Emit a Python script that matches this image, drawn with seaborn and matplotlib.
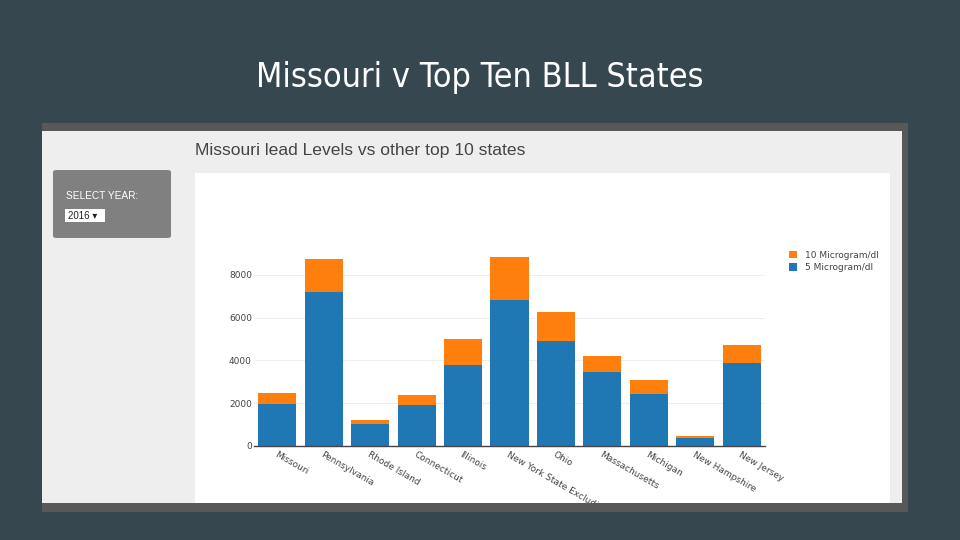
import pandas as pd
import matplotlib
matplotlib.use("Agg")
import matplotlib.pyplot as plt
import seaborn as sns
from matplotlib.patches import Rectangle, FancyBboxPatch

states = ["Missouri", "Pennsylvania", "Rhode Island", "Connecticut", "Illinois",
          "New York State Excluding NYC", "Ohio", "Massachusetts", "Michigan",
          "New Hampshire", "New Jersey"]
tick_labels = ["Missouri", "Pennsylvania", "Rhode Island", "Connecticut", "Illinois",
               "New York State Excluding NYC", "Ohio", "Massachusetts", "Michigan",
               "New Hampshire", "New Jersey"]
bll_5 = [1940, 7220, 1020, 1910, 3770, 6830, 4890, 3460, 2410, 360, 3860]
bll_10 = [515, 1530, 185, 470, 1230, 2015, 1375, 745, 655, 80, 860]
y_ticks = [0, 2000, 4000, 6000, 8000]

BG = '#37474f'
BLUE = '#1f77b4'
ORANGE = '#ff7f0e'

sns.set_theme(style="white")
plt.rcParams['font.family'] = ['DejaVu Sans']

df = pd.DataFrame({'state': states, 'five': bll_5, 'ten': bll_10})
df['total'] = df['five'] + df['ten']

fig = plt.figure(figsize=(9.6, 5.4), dpi=100, facecolor=BG)

def px_rect(x0, y0, x1, y1, color, z=0):
    # rectangle given in pixel coords (origin top-left)
    fig.patches.append(Rectangle((x0 / 960, 1 - y1 / 540), (x1 - x0) / 960, (y1 - y0) / 540,
                                 transform=fig.transFigure, facecolor=color,
                                 edgecolor='none', zorder=z))

# screenshot frame
px_rect(42, 123, 908, 512, '#585858')
px_rect(42, 131, 902, 503, '#eeeeee')
px_rect(195, 173, 890, 503, '#ffffff')

# select year widget
fig.patches.append(FancyBboxPatch((53 / 960, 1 - 238 / 540), 118 / 960, 68 / 540,
                                  boxstyle="round,pad=0,rounding_size=0.004",
                                  transform=fig.transFigure, facecolor='#808080',
                                  edgecolor='none', zorder=1))
fig.text(66 / 960, 1 - 196 / 540, "SELECT YEAR:", color='white', fontsize=7.3,
         family='Liberation Sans', va='center', ha='left')
px_rect(65, 209, 105, 222, '#ffffff', z=2)
fig.text(68 / 960, 1 - 215.5 / 540, "2016 \u25be", color='#222222', fontsize=7,
         family=['Liberation Sans', 'DejaVu Sans'], va='center', ha='left', zorder=3)

# slide title
fig.text(0.5, 1 - 78 / 540, "Missouri v Top Ten BLL States", color='white',
         fontsize=24.5, family='DejaVu Sans', fontstretch='condensed',
         ha='center', va='center')

# chart title
fig.text(195 / 960, 1 - 150 / 540, "Missouri lead Levels vs other top 10 states",
         color='#444444', fontsize=12.6, family='Liberation Sans', ha='left', va='center')

ax = fig.add_axes([254 / 960, (540 - 445.7) / 540, 511 / 960, (445.7 - 247) / 540])
ax.set_zorder(5)
ax.patch.set_alpha(0)

sns.barplot(data=df, x='state', y='total', color=ORANGE, width=0.82, linewidth=0,
            saturation=1, ax=ax, zorder=3, label='10 Microgram/dl')
sns.barplot(data=df, x='state', y='five', color=BLUE, width=0.82, linewidth=0,
            saturation=1, ax=ax, zorder=4, label='5 Microgram/dl')

ax.set_xlim(-0.5, 10.5)
ax.set_ylim(0, 9311)
ax.set_yticks(y_ticks)
ax.set_yticklabels([str(v) for v in y_ticks], fontsize=6.5, color='#444444')
ax.grid(axis='y', color='#eeeeee', lw=0.8, zorder=0)
ax.set_axisbelow(True)
ax.set_xlabel('')
ax.set_ylabel('')
for s in ['top', 'right', 'left']:
    ax.spines[s].set_visible(False)
ax.spines['bottom'].set_color('#444444')
ax.spines['bottom'].set_linewidth(1)
ax.spines['bottom'].set_zorder(5)
ax.tick_params(axis='y', length=0, pad=1.5)
ax.tick_params(axis='x', length=0, pad=3)
ax.set_xticks(range(len(tick_labels)))
ax.set_xticklabels(tick_labels, rotation=-30, ha='left', rotation_mode='anchor',
                   fontsize=6.5, color='#444444')

# legend
handles, labels = ax.get_legend_handles_labels()
leg = ax.legend(handles, labels, loc='upper left', bbox_to_anchor=(1.04, 1.0),
                frameon=False, fontsize=6.5, handlelength=0.9, handleheight=0.9,
                handletextpad=0.9, labelspacing=0.4, borderaxespad=0)
for t in leg.get_texts():
    t.set_color('#444444')

# clip x tick labels at the white panel bottom like the screenshot
clip = Rectangle((195 / 960, 1 - 503 / 540), 695 / 960, 330 / 540, transform=fig.transFigure)
for lbl in ax.get_xticklabels():
    lbl.set_clip_path(clip)
    lbl.set_clip_on(True)

fig.savefig('out.png', dpi=100, facecolor=BG)
